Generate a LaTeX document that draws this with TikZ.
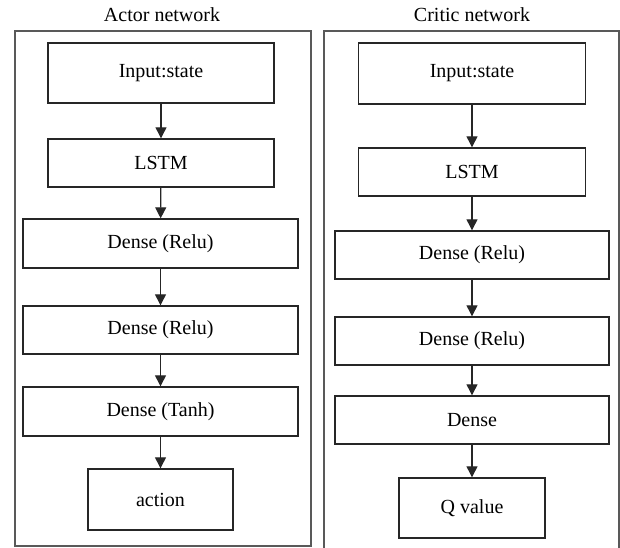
\documentclass[tikz,border=0pt]{standalone}
\usepackage{fontspec}
\setmainfont{Liberation Serif}
\usetikzlibrary{arrows.meta}
\begin{document}
\begin{tikzpicture}
[
x=1pt,y=-1pt,
flowpath/.style={black!85,->,>={Triangle[length=11pt,width=11pt]},line width=1.2pt,draw},
layer/.style={draw=black!85,line width=1.4pt,inner sep=0pt,font=\fontsize{20}{24}\selectfont},
panel/.style={draw=black!65,line width=1.3pt},
title/.style={font=\fontsize{20}{24}\selectfont}
]
\useasboundingbox (0,0) rectangle (620,547);

% panels and titles
\draw[panel] (15,31) rectangle (311,546);
\draw[panel] (324,548) -- (324,31) -- (619,31) -- (619,548);
\node[title] (actortitle) at (162,15) {Actor network};
\node[title] (critictitle) at (472,15) {Critic network};

% actor network
\node[layer,minimum width=226pt,minimum height=60pt] (ain) at (161,73) {Input:state};
\node[layer,minimum width=226pt,minimum height=48pt] (alstm) at (161,163) {LSTM};
\node[layer,minimum width=275pt,minimum height=49pt] (ad1) at (160.5,243.5) {Dense (Relu)};
\node[layer,minimum width=275pt,minimum height=48pt] (ad2) at (160.5,330) {Dense (Relu)};
\node[layer,minimum width=275pt,minimum height=49pt] (ad3) at (160.5,411.5) {Dense (Tanh)};
\node[layer,minimum width=145pt,minimum height=61pt] (aout) at (160.5,499.5) {action};

% critic network
\node[layer,minimum width=227pt,minimum height=61pt] (cin) at (472,73.5) {Input:state};
\node[layer,minimum width=227pt,minimum height=48pt] (clstm) at (472,172) {LSTM};
\node[layer,minimum width=274pt,minimum height=48pt] (cd1) at (472,255) {Dense (Relu)};
\node[layer,minimum width=274pt,minimum height=48pt] (cd2) at (472,341) {Dense (Relu)};
\node[layer,minimum width=274pt,minimum height=48pt] (cd3) at (472,420) {Dense};
\node[layer,minimum width=146pt,minimum height=60pt] (cout) at (472,508) {Q value};

\foreach \a/\b in {ain/alstm,alstm/ad1,ad1/ad2,ad2/ad3,ad3/aout,
                   cin/clstm,clstm/cd1,cd1/cd2,cd2/cd3,cd3/cout} {
  \draw[flowpath] (\a) -- (\b);
}

\end{tikzpicture}
\end{document}
